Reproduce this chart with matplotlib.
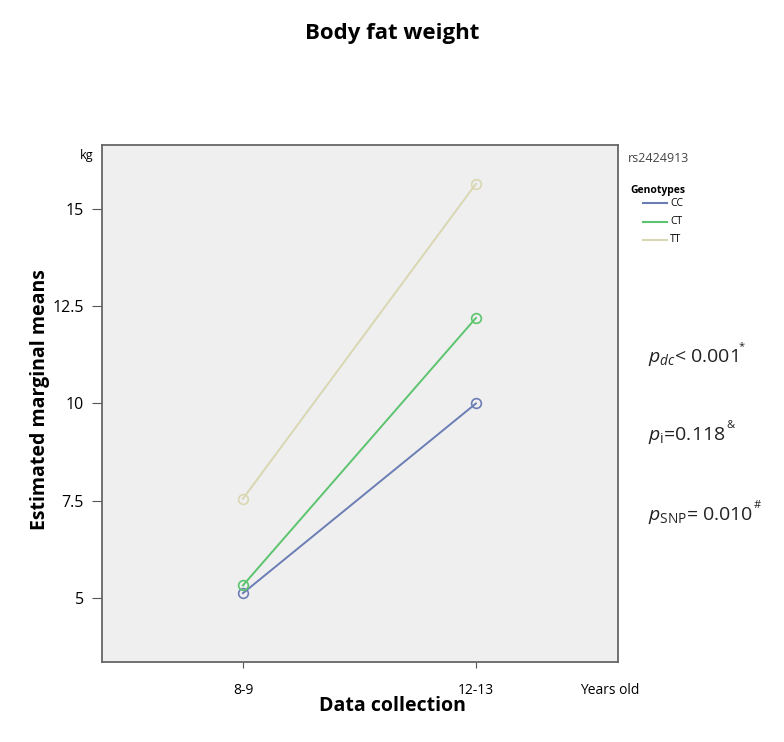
import matplotlib.pyplot as plt

plt.rcParams['font.family'] = ['Open Sans', 'DejaVu Sans']
plt.rcParams['mathtext.fontset'] = 'custom'
plt.rcParams['mathtext.rm'] = 'Open Sans'
plt.rcParams['mathtext.it'] = 'Open Sans:italic'

# --- Data ---
ages = ["8-9", "12-13"]
genotypes = ["CC", "CT", "TT"]
cc_means = [5.12, 10.0]
ct_means = [5.32, 12.2]
tt_means = [7.55, 15.65]
colors = ["#6b7db5", "#5cc46e", "#d9d7b2"]
y_ticks = [5, 7.5, 10, 12.5, 15]
y_ticklabels = ["5", "7.5", "10", "12.5", "15"]
p_texts = [(r"$p_{dc}$< 0.001", "*"), (r"$p_{\mathrm{i}}$=0.118", "&"),
           (r"$p_{\mathrm{SNP}}$= 0.010", "#")]

fig = plt.figure(figsize=(7.84, 7.42), dpi=100)
ax = fig.add_axes([102 / 784, 1 - 662 / 742, 516 / 784, 517 / 742])
ax.set_facecolor("#efefef")

x = list(range(len(ages)))
for vals, col in zip([cc_means, ct_means, tt_means], colors):
    ax.plot(x, vals, color=col, lw=1.4, marker="o", ms=7,
            markerfacecolor="none", markeredgecolor=col, markeredgewidth=1.2)

ax.set_xlim(-0.605, 1.61)
ax.set_ylim(3.35, 16.65)
ax.set_xticks(x)
ax.set_xticklabels(ages, fontsize=10)
ax.set_yticks(y_ticks)
ax.set_yticklabels(y_ticklabels, fontsize=11.5)
ax.tick_params(axis="x", length=4, color="#555555", pad=11)
ax.tick_params(axis="y", length=7, color="#555555", pad=6)
for s in ax.spines.values():
    s.set_color("#666666")
    s.set_linewidth(1.3)

# --- Texts ---
fig.text(392 / 784, 1 - 34 / 742, "Body fat weight", ha="center", va="center",
         fontsize=16, fontweight="bold")
fig.text(40 / 784, 1 - 400 / 742, "Estimated marginal means", ha="center", va="center",
         rotation=90, fontsize=14, fontweight="bold")
fig.text(392 / 784, 1 - 706 / 742, "Data collection", ha="center", va="center",
         fontsize=14, fontweight="bold")
fig.text(80 / 784, 1 - 155 / 742, "kg", ha="left", va="center", fontsize=9)
fig.text(580 / 784, 1 - 691 / 742, "Years old", ha="left", va="center", fontsize=10)

# legend
fig.text(628 / 784, 1 - 159 / 742, "rs2424913", ha="left", va="center",
         fontsize=9, color="#444444")
fig.text(630 / 784, 1 - 190 / 742, "Genotypes", ha="left", va="center",
         fontsize=7.5, fontweight="bold")
for i, (g, col) in enumerate(zip(genotypes, colors)):
    yy = 1 - (203 + i * 18.5) / 742
    fig.add_artist(plt.Line2D([643 / 784, 667 / 784], [yy, yy], color=col, lw=1.5))
    fig.text(670 / 784, yy, g, ha="left", va="center", fontsize=7.5)

# p-values with superscript marks
renderer = fig.canvas.get_renderer()
for i, (txt, sup) in enumerate(p_texts):
    yy = 1 - (357 + i * 79) / 742
    t = fig.text(648 / 784, yy, txt, ha="left", va="center", fontsize=14, color="#222222")
    bb = t.get_window_extent(renderer)
    fig.text((bb.x1 + 1) / 784, yy + 10 / 742, sup, ha="left", va="center",
             fontsize=8, color="#222222")

fig.savefig("out.png", dpi=100)
